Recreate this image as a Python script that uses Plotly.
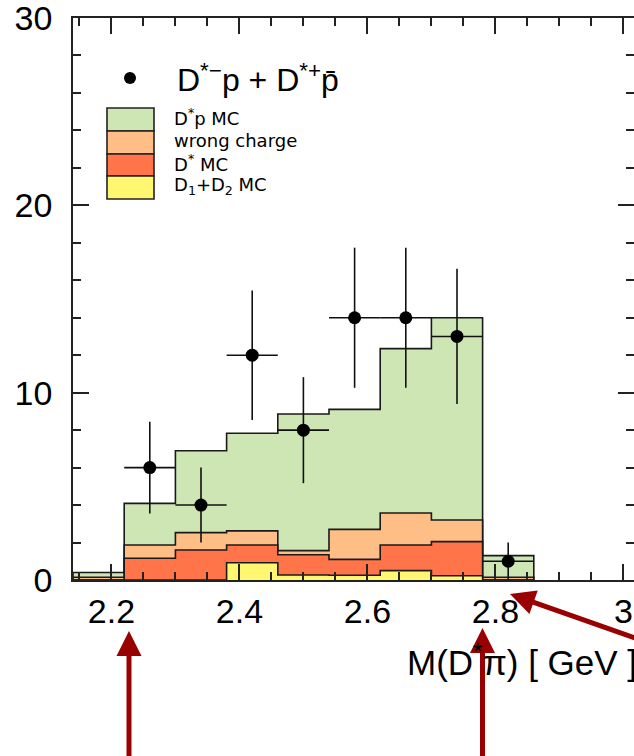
import plotly.graph_objects as go

# ---------------- data ----------------
bin_edges = [2.14, 2.22, 2.30, 2.38, 2.46, 2.54, 2.62, 2.70, 2.78, 2.86]
d1d2_mc = [0, 0, 0, 0.92, 0.27, 0.25, 0.50, 0.23, 0]
dstar_mc = [0, 1.16, 1.60, 0.95, 1.08, 0.85, 1.37, 1.82, 0]
wrong_charge = [0.15, 0.71, 0.93, 0.75, 0.22, 1.60, 1.71, 1.15, 0.15]
dstarp_mc = [0.25, 2.22, 4.37, 5.21, 7.29, 6.41, 8.77, 10.80, 1.15]

data_x = [2.26, 2.34, 2.42, 2.50, 2.58, 2.66, 2.74, 2.82]
data_y = [6, 4, 12, 8, 14, 14, 13, 1]
data_err = [2.45, 2.0, 3.46, 2.83, 3.74, 3.74, 3.61, 1.0]
data_xerr = [0.04, 0.04, 0.04, 0.04, 0.04, 0.04, 0.04, 0.04]

x_ticks = [2.2, 2.4, 2.6, 2.8, 3.0]
x_tick_text = ["2.2", "2.4", "2.6", "2.8", "3"]
y_ticks = [0, 10, 20, 30]

# ---------------- styles ----------------
C_GREEN = "#CDE6B4"
C_ORANGE = "#FFBE85"
C_RED = "#FF7448"
C_YELLOW = "#FFF770"
C_ARROW = "#990000"
FONT = "Liberation Sans"

W, H = 634, 756
ML, MR, MT, MB = 73, 0, 18, 176
PW, PH = W - ML - MR, H - MT - MB


def px(xp):
    return (xp - ML) / PW


def py(yp):
    return (H - MB - yp) / PH


def cumulative(*layers):
    out = [0.0] * len(layers[0])
    for lay in layers:
        out = [a + b for a, b in zip(out, lay)]
    return out


def step_xy(vals):
    xs = [bin_edges[0]] + list(bin_edges) + [bin_edges[-1]]
    ys = [0] + list(vals) + [vals[-1], 0]
    return xs, ys


fig = go.Figure()

stack_layers = [
    (cumulative(d1d2_mc, dstar_mc, wrong_charge, dstarp_mc), C_GREEN),
    (cumulative(d1d2_mc, dstar_mc, wrong_charge), C_ORANGE),
    (cumulative(d1d2_mc, dstar_mc), C_RED),
    (cumulative(d1d2_mc), C_YELLOW),
]
for vals, col in stack_layers:
    xs, ys = step_xy(vals)
    fig.add_trace(go.Scatter(
        x=xs, y=ys, mode="lines", line=dict(shape="hv", color="#1a1a1a", width=1.6),
        fill="tozeroy", fillcolor=col, showlegend=False, hoverinfo="skip"))

fig.add_trace(go.Scatter(
    x=data_x, y=data_y, mode="markers",
    marker=dict(color="black", size=13, symbol="circle"),
    error_y=dict(type="data", array=data_err, color="#111", thickness=1.6, width=0),
    error_x=dict(type="data", array=data_xerr, color="#111", thickness=1.6, width=0),
    showlegend=False))

axis_common = dict(
    showgrid=False, zeroline=False, showline=True, linecolor="#222", linewidth=1.6,
    mirror="allticks", ticks="inside", ticklen=16, tickwidth=1.6, tickcolor="#222",
    tickfont=dict(family=FONT, size=34, color="black"), automargin=False,
    ticklabeloverflow="allow",
)
fig.update_xaxes(
    range=[bin_edges[0], bin_edges[0] + PW / 640.0],
    tickmode="array", tickvals=x_ticks, ticktext=x_tick_text,
    minor=dict(ticks="inside", ticklen=8, tickwidth=1.6, tickcolor="#222", dtick=0.05, tick0=2.2, showgrid=False),
    ticklabelstandoff=0,
    **axis_common)
fig.update_yaxes(
    range=[0, 30], tickmode="array", tickvals=y_ticks,
    minor=dict(ticks="inside", ticklen=8, tickwidth=1.6, tickcolor="#222", dtick=2, tick0=0, showgrid=False),
    ticklabelstandoff=12,
    **axis_common)

shapes = []
annotations = []

# legend: data marker
shapes.append(dict(type="circle", xref="paper", yref="paper",
                   x0=px(124), x1=px(136), y0=py(84), y1=py(72),
                   fillcolor="black", line=dict(width=0)))
annotations.append(dict(xref="paper", yref="paper", x=px(175), y=py(78), xanchor="left", yanchor="middle",
                        text="D<sup>*−</sup>p + D<sup>*+</sup>p̄", showarrow=False,
                        font=dict(family=FONT, size=32, color="black")))

legend_items = [
    (C_GREEN, "D<sup>*</sup>p MC", 108, 131),
    (C_ORANGE, "wrong charge", 131, 154),
    (C_RED, "D<sup>*</sup> MC", 154, 176),
    (C_YELLOW, "D<sub>1</sub>+D<sub>2</sub> MC", 176, 199),
]
for col, label, y0, y1 in legend_items:
    shapes.append(dict(type="rect", xref="paper", yref="paper",
                       x0=px(107), x1=px(154), y0=py(y1), y1=py(y0),
                       fillcolor=col, line=dict(color="#222", width=1.6)))
    annotations.append(dict(xref="paper", yref="paper", x=px(172), y=py((y0 + y1) / 2 - 2),
                            xanchor="left", yanchor="middle", text=label, showarrow=False,
                            font=dict(family="DejaVu Sans", size=18, color="black")))

# x-axis title
annotations.append(dict(xref="paper", yref="paper", x=px(405), y=py(660), xanchor="left", yanchor="middle",
                        text="M(D<sup>*</sup>π) [ GeV ]", showarrow=False,
                        font=dict(family=FONT, size=35, color="black")))


def arrow(tail, tip, head_len=25, head_w=25, width=5):
    (tx, ty), (hx, hy) = tail, tip
    dx, dy = tx - hx, ty - hy
    n = (dx * dx + dy * dy) ** 0.5
    ux, uy = dx / n, dy / n
    bx, by = hx + ux * head_len, hy + uy * head_len
    pxn, pyn = -uy * head_w / 2, ux * head_w / 2
    shapes.append(dict(type="line", xref="paper", yref="paper",
                       x0=px(tx), y0=py(ty), x1=px(bx - ux * 2), y1=py(by - uy * 2),
                       line=dict(color=C_ARROW, width=width)))
    path = "M {} {} L {} {} L {} {} Z".format(
        px(hx), py(hy), px(bx + pxn), py(by + pyn), px(bx - pxn), py(by - pyn))
    shapes.append(dict(type="path", xref="paper", yref="paper", path=path,
                       fillcolor=C_ARROW, line=dict(width=0)))


arrow((129, 760), (129, 631))
arrow((482.5, 760), (482.5, 628))
arrow((660, 646.8), (510, 594))

fig.update_layout(
    width=W, height=H, margin=dict(l=ML, r=MR, t=MT, b=MB, pad=0),
    paper_bgcolor="white", plot_bgcolor="white",
    shapes=shapes, annotations=annotations, showlegend=False,
)

fig.write_html(
    "out.html",
    config={"displayModeBar": False},
    post_script="document.body.style.margin='0';document.body.style.padding='0';document.body.style.overflow='hidden';",
)
